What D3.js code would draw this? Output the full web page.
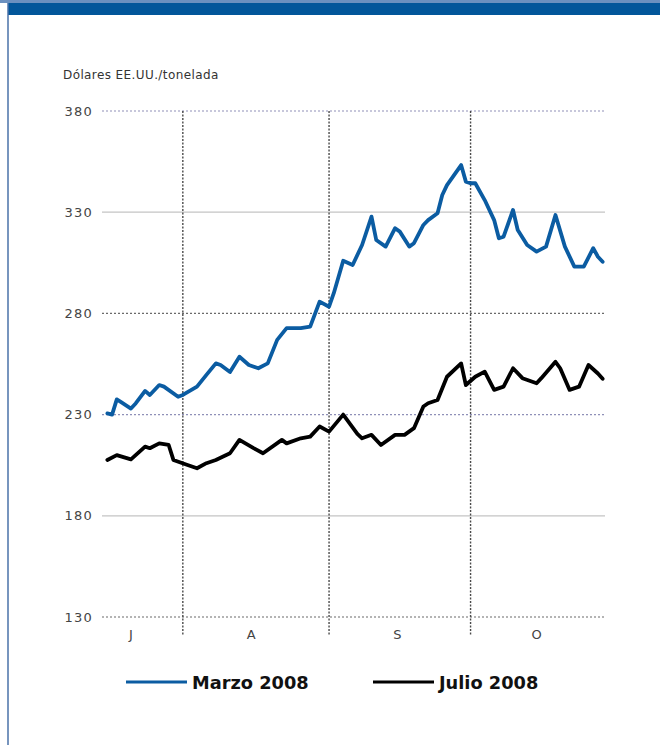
<!DOCTYPE html>
<html>
<head>
<meta charset="utf-8">
<script src="https://cdn.jsdelivr.net/npm/d3@7/dist/d3.min.js"></script>
<style>
  html, body { margin: 0; padding: 0; background: #fff; }
  svg { display: block; }
</style>
</head>
<body>
<svg id="chart" width="660" height="745"></svg>
<script>
// ---- data ----
const marzoDates = ["2008-07-16","2008-07-17","2008-07-18","2008-07-19","2008-07-21","2008-07-22","2008-07-24","2008-07-25","2008-07-27","2008-07-28","2008-07-31","2008-08-01","2008-08-04","2008-08-06","2008-08-08","2008-08-09","2008-08-11","2008-08-13","2008-08-15","2008-08-17","2008-08-19","2008-08-21","2008-08-23","2008-08-26","2008-08-28","2008-08-30","2008-09-01","2008-09-02","2008-09-04","2008-09-06","2008-09-08","2008-09-10","2008-09-11","2008-09-13","2008-09-15","2008-09-16","2008-09-18","2008-09-19","2008-09-21","2008-09-22","2008-09-24","2008-09-25","2008-09-26","2008-09-29","2008-09-30","2008-10-01","2008-10-02","2008-10-04","2008-10-06","2008-10-07","2008-10-08","2008-10-10","2008-10-11","2008-10-13","2008-10-15","2008-10-17","2008-10-19","2008-10-21","2008-10-23","2008-10-25","2008-10-27","2008-10-28","2008-10-29"];
const marzoValues = [230.6,230,237.5,236,233,235.5,241.7,239.7,244.6,243.8,238.8,239.7,243.8,249.6,255.3,254.5,251,258.6,254.5,252.9,255.3,266.9,272.7,272.7,273.5,285.8,283.3,290,306,303.9,313.8,327.8,316.3,313,322.1,320.4,313,314.7,323.7,326.1,329.5,338.5,343.4,353.3,345.1,344.3,344.3,336,326.1,317.1,317.9,331.1,321.2,313.8,310.5,313,328.6,313,303.1,303.1,312.2,308,305.5];

const julioDates = ["2008-07-16","2008-07-18","2008-07-21","2008-07-24","2008-07-25","2008-07-27","2008-07-29","2008-07-30","2008-08-02","2008-08-04","2008-08-06","2008-08-08","2008-08-11","2008-08-13","2008-08-16","2008-08-18","2008-08-22","2008-08-23","2008-08-26","2008-08-28","2008-08-30","2008-09-01","2008-09-04","2008-09-07","2008-09-08","2008-09-10","2008-09-12","2008-09-15","2008-09-17","2008-09-19","2008-09-21","2008-09-22","2008-09-24","2008-09-26","2008-09-29","2008-09-30","2008-10-02","2008-10-04","2008-10-06","2008-10-08","2008-10-10","2008-10-12","2008-10-15","2008-10-16","2008-10-19","2008-10-20","2008-10-22","2008-10-24","2008-10-26","2008-10-28","2008-10-29"];
const julioValues = [207.6,210,207.9,214.2,213.4,215.8,215,207.6,205.1,203.5,206,207.6,210.9,217.5,213.4,210.9,217.5,215.8,218.3,219.1,224.1,221.6,230,220.5,218.3,220,215,220,220,223.3,234,235.6,237.2,248.7,255.3,244.6,248.7,251.2,242.2,243.8,252.9,248,245.5,248,256.1,252.9,242.2,243.8,254.5,250.3,247.7];

const yTicks = [130, 180, 230, 280, 330, 380];
const monthStarts = ["2008-08-01","2008-09-01","2008-10-01"];
const monthLabels = ["J", "A", "S", "O"];
const monthLabelDates = ["2008-07-21T00","2008-08-15T12","2008-09-15T12","2008-10-15T00"];
const seriesNames = ["Marzo 2008", "Julio 2008"];
const seriesColors = ["#0b5ca2", "#000000"];
const yTitle = "Dólares EE.UU./tonelada";

// ---- setup ----
const parseD = d3.timeParse("%Y-%m-%d");
const parseH = d3.timeParse("%Y-%m-%dT%H");
const svg = d3.select("#chart");
const W = 660, H = 745;
const m = { left: 105, right: 605, top: 111, bottom: 617 };

const x = d3.scaleTime()
  .domain([parseH("2008-07-15T12"), parseH("2008-10-29T12")])
  .range([m.left, m.right]);
const y = d3.scaleLinear().domain([130, 380]).range([m.bottom, m.top]);

// frame / header band
svg.append("rect").attr("x", 0).attr("y", 0).attr("width", W).attr("height", 3).attr("fill", "#6b90bf");
svg.append("rect").attr("x", 8).attr("y", 3).attr("width", W - 8).attr("height", 12).attr("fill", "#02569a");
svg.append("line").attr("x1", 8).attr("x2", 8).attr("y1", 3).attr("y2", H)
  .attr("stroke", "#4a72a8").attr("stroke-width", 1.5);

// y title
svg.append("text").attr("x", 63).attr("y", 79)
  .attr("font-family", "DejaVu Sans").attr("font-size", 12).attr("letter-spacing", 0.4)
  .attr("fill", "#333").text(yTitle);

// horizontal gridlines + labels
const gridStyle = {
  380: { c: "#8f90b8", d: "2,2" }, 330: { c: "#c4c4c4", d: null },
  280: { c: "#6a6a6a", d: "2,2" }, 230: { c: "#8f90b8", d: "2,2" },
  180: { c: "#c4c4c4", d: null },  130: { c: "#6a6a6a", d: "2,2" }
};
const yAxis = d3.axisLeft(y).tickValues(yTicks).tickSize(0).tickPadding(10).tickFormat(d3.format("d"));
const gy = svg.append("g").attr("transform", `translate(${m.left - 2},0)`).call(yAxis);
gy.select(".domain").remove();
gy.selectAll("text").attr("font-family", "DejaVu Sans").attr("font-size", 13)
  .attr("letter-spacing", 1.2).attr("fill", "#444");

svg.append("g").selectAll("line").data(yTicks).join("line")
  .attr("x1", m.left - 3).attr("x2", m.right)
  .attr("y1", d => y(d)).attr("y2", d => y(d))
  .attr("stroke", d => gridStyle[d].c)
  .attr("stroke-width", 1.2)
  .attr("stroke-dasharray", d => gridStyle[d].d);

// vertical month dividers
svg.append("g").selectAll("line").data(monthStarts.map(parseD)).join("line")
  .attr("x1", d => x(d)).attr("x2", d => x(d))
  .attr("y1", m.top).attr("y2", m.bottom + 18)
  .attr("stroke", "#4a4a4a").attr("stroke-width", 1.4).attr("stroke-dasharray", "2,1.5");

// month labels
svg.append("g").selectAll("text").data(monthLabels).join("text")
  .attr("x", (d, i) => x(parseH(monthLabelDates[i])))
  .attr("y", m.bottom + 22)
  .attr("text-anchor", "middle")
  .attr("font-family", "DejaVu Sans").attr("font-size", 13).attr("fill", "#444")
  .text(d => d);

// lines
const line = d3.line().x(d => x(d[0])).y(d => y(d[1])).curve(d3.curveLinear);
const marzo = marzoDates.map((d, i) => [parseD(d), marzoValues[i]]);
const julio = julioDates.map((d, i) => [parseD(d), julioValues[i]]);

svg.append("path").datum(julio).attr("d", line)
  .attr("fill", "none").attr("stroke", seriesColors[1]).attr("stroke-width", 3.8)
  .attr("stroke-linejoin", "round").attr("stroke-linecap", "round");
svg.append("path").datum(marzo).attr("d", line)
  .attr("fill", "none").attr("stroke", seriesColors[0]).attr("stroke-width", 3.8)
  .attr("stroke-linejoin", "round").attr("stroke-linecap", "round");

// legend
const legendX = [126, 373];
const lg = svg.append("g").selectAll("g").data(seriesNames).join("g")
  .attr("transform", (d, i) => `translate(${legendX[i]},682)`);
lg.append("line").attr("x1", 0).attr("x2", 61).attr("y1", 0).attr("y2", 0)
  .attr("stroke", (d, i) => seriesColors[i]).attr("stroke-width", 3);
lg.append("text").attr("x", 66).attr("y", 7)
  .attr("font-family", "DejaVu Sans").attr("font-weight", "bold").attr("font-size", 17.8)
  .attr("fill", "#111").text(d => d);
</script>
</body>
</html>
